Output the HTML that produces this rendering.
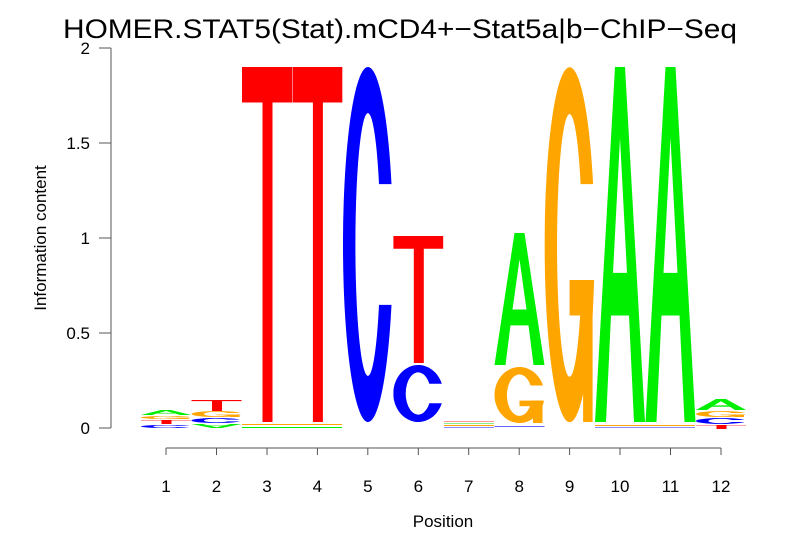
<!DOCTYPE html>
<html><head><meta charset="utf-8"><style>body{margin:0;background:#fff}svg{display:block}</style></head>
<body>
<svg width="806" height="559" xmlns="http://www.w3.org/2000/svg" xmlns:xlink="http://www.w3.org/1999/xlink" font-family="Liberation Sans, sans-serif">
<defs>
<path id="T" d="M0 0H100V10H61V100H41V10H0Z" fill="#ff0000"/>
<path id="A" fill-rule="evenodd" fill="#00ee00" d="M0 100L40 0H60L100 100H78L68 70H32L22 100ZM36 58H64L50 20Z"/>
<path id="C" fill="#0000ff" d="M97 33A50 50 0 1 0 97 67L72 67A25 37 0 1 1 72 33Z"/>
<g id="G" fill="#ffa500"><path d="M97 33A50 50 0 1 0 99 60L74 60A25 37 0 1 1 72 33Z"/><rect x="50" y="60" width="46" height="10"/><rect x="77" y="60" width="19" height="40"/></g>
</defs>
<rect width="806" height="559" fill="#fff"/>
<text x="400" y="38" font-size="27" text-anchor="middle" textLength="674" lengthAdjust="spacingAndGlyphs">HOMER.STAT5(Stat).mCD4+−Stat5a|b−ChIP−Seq</text>
<g stroke="#555" stroke-width="1" fill="none">
<path d="M111 48V428"/>
<path d="M99 428H111M99 333H111M99 238H111M99 143H111M99 48H111"/>
<path d="M166 448H721"/>
<path d="M166 448v7M216.5 448v7M267 448v7M317.4 448v7M367.8 448v7M418.3 448v7M468.7 448v7M519.2 448v7M569.6 448v7M620 448v7M670.5 448v7M721 448v7"/>
</g>
<g font-size="17" text-anchor="end">
<text x="90" y="434">0</text><text x="90" y="339">0.5</text><text x="90" y="244">1</text><text x="90" y="149">1.5</text><text x="90" y="54">2</text>
</g>
<g font-size="17" text-anchor="middle">
<text x="166" y="492">1</text><text x="216.5" y="492">2</text><text x="267" y="492">3</text><text x="317.4" y="492">4</text><text x="367.8" y="492">5</text><text x="418.3" y="492">6</text><text x="468.7" y="492">7</text><text x="519.2" y="492">8</text><text x="569.6" y="492">9</text><text x="620" y="492">10</text><text x="670.5" y="492">11</text><text x="721" y="492">12</text>
</g>
<text x="443" y="527" font-size="17" text-anchor="middle">Position</text>
<text transform="translate(46 238) rotate(-90)" font-size="17" text-anchor="middle">Information content</text>
<g>
<svg x="141" y="425" width="50" height="3" viewBox="0 0 100 100" preserveAspectRatio="none"><use xlink:href="#C"/></svg>
<svg x="141" y="420" width="50" height="4" viewBox="0 0 100 100" preserveAspectRatio="none"><use xlink:href="#T"/></svg>
<svg x="141" y="416" width="50" height="3" viewBox="0 0 100 100" preserveAspectRatio="none"><use xlink:href="#G"/></svg>
<svg x="141" y="410" width="50" height="5" viewBox="0 0 100 100" preserveAspectRatio="none"><use xlink:href="#A"/></svg>
<svg x="191.5" y="424" width="50" height="4" viewBox="0 0 100 100" preserveAspectRatio="none"><g transform="translate(0 100) scale(1 -1)"><use xlink:href="#A"/></g></svg>
<svg x="191.5" y="418" width="50" height="5" viewBox="0 0 100 100" preserveAspectRatio="none"><use xlink:href="#C"/></svg>
<svg x="191.5" y="411" width="50" height="6" viewBox="0 0 100 100" preserveAspectRatio="none"><use xlink:href="#G"/></svg>
<svg x="191.5" y="400" width="50" height="11" viewBox="0 0 100 100" preserveAspectRatio="none"><use xlink:href="#T"/></svg>
<svg x="242" y="67" width="50" height="355" viewBox="0 0 100 100" preserveAspectRatio="none"><use xlink:href="#T"/></svg>
<svg x="292.4" y="67" width="50" height="355" viewBox="0 0 100 100" preserveAspectRatio="none"><use xlink:href="#T"/></svg>
<rect x="242" y="424" width="100" height="1" fill="#ffa500"/><rect x="242" y="427" width="100" height="1" fill="#00ee00"/>
<svg x="343" y="67" width="50" height="355" viewBox="0 0 100 100" preserveAspectRatio="none"><use xlink:href="#C"/></svg>
<svg x="393.3" y="365" width="50" height="57" viewBox="0 0 100 100" preserveAspectRatio="none"><use xlink:href="#C"/></svg>
<svg x="393.3" y="236" width="50" height="127" viewBox="0 0 100 100" preserveAspectRatio="none"><use xlink:href="#T"/></svg>
<rect x="444" y="421" width="50" height="1" fill="#ff9999"/><rect x="444" y="423" width="50" height="1" fill="#88ee88"/><rect x="444" y="425" width="50" height="1" fill="#ffa500"/><rect x="444" y="427" width="50" height="1" fill="#8888ff"/>
<svg x="494.5" y="367" width="50" height="56" viewBox="0 0 100 100" preserveAspectRatio="none"><use xlink:href="#G"/></svg>
<svg x="494.5" y="233" width="50" height="132" viewBox="0 0 100 100" preserveAspectRatio="none"><use xlink:href="#A"/></svg>
<rect x="494.5" y="426" width="50" height="1" fill="#6666ff"/>
<svg x="544.6" y="67" width="50" height="355" viewBox="0 0 100 100" preserveAspectRatio="none"><use xlink:href="#G"/></svg>
<svg x="595" y="67" width="50" height="355" viewBox="0 0 100 100" preserveAspectRatio="none"><use xlink:href="#A"/></svg>
<svg x="645.5" y="67" width="50" height="355" viewBox="0 0 100 100" preserveAspectRatio="none"><use xlink:href="#A"/></svg>
<rect x="595" y="425" width="100" height="1" fill="#ffa500"/><rect x="595" y="427" width="100" height="1" fill="#8888ff"/>
<svg x="696" y="425" width="50" height="4" viewBox="0 0 100 100" preserveAspectRatio="none"><use xlink:href="#T"/></svg>
<svg x="696" y="418" width="50" height="6" viewBox="0 0 100 100" preserveAspectRatio="none"><use xlink:href="#C"/></svg>
<svg x="696" y="411" width="50" height="6" viewBox="0 0 100 100" preserveAspectRatio="none"><use xlink:href="#G"/></svg>
<svg x="696" y="399" width="50" height="11" viewBox="0 0 100 100" preserveAspectRatio="none"><use xlink:href="#A"/></svg>
</g>
</svg>
</body></html>
